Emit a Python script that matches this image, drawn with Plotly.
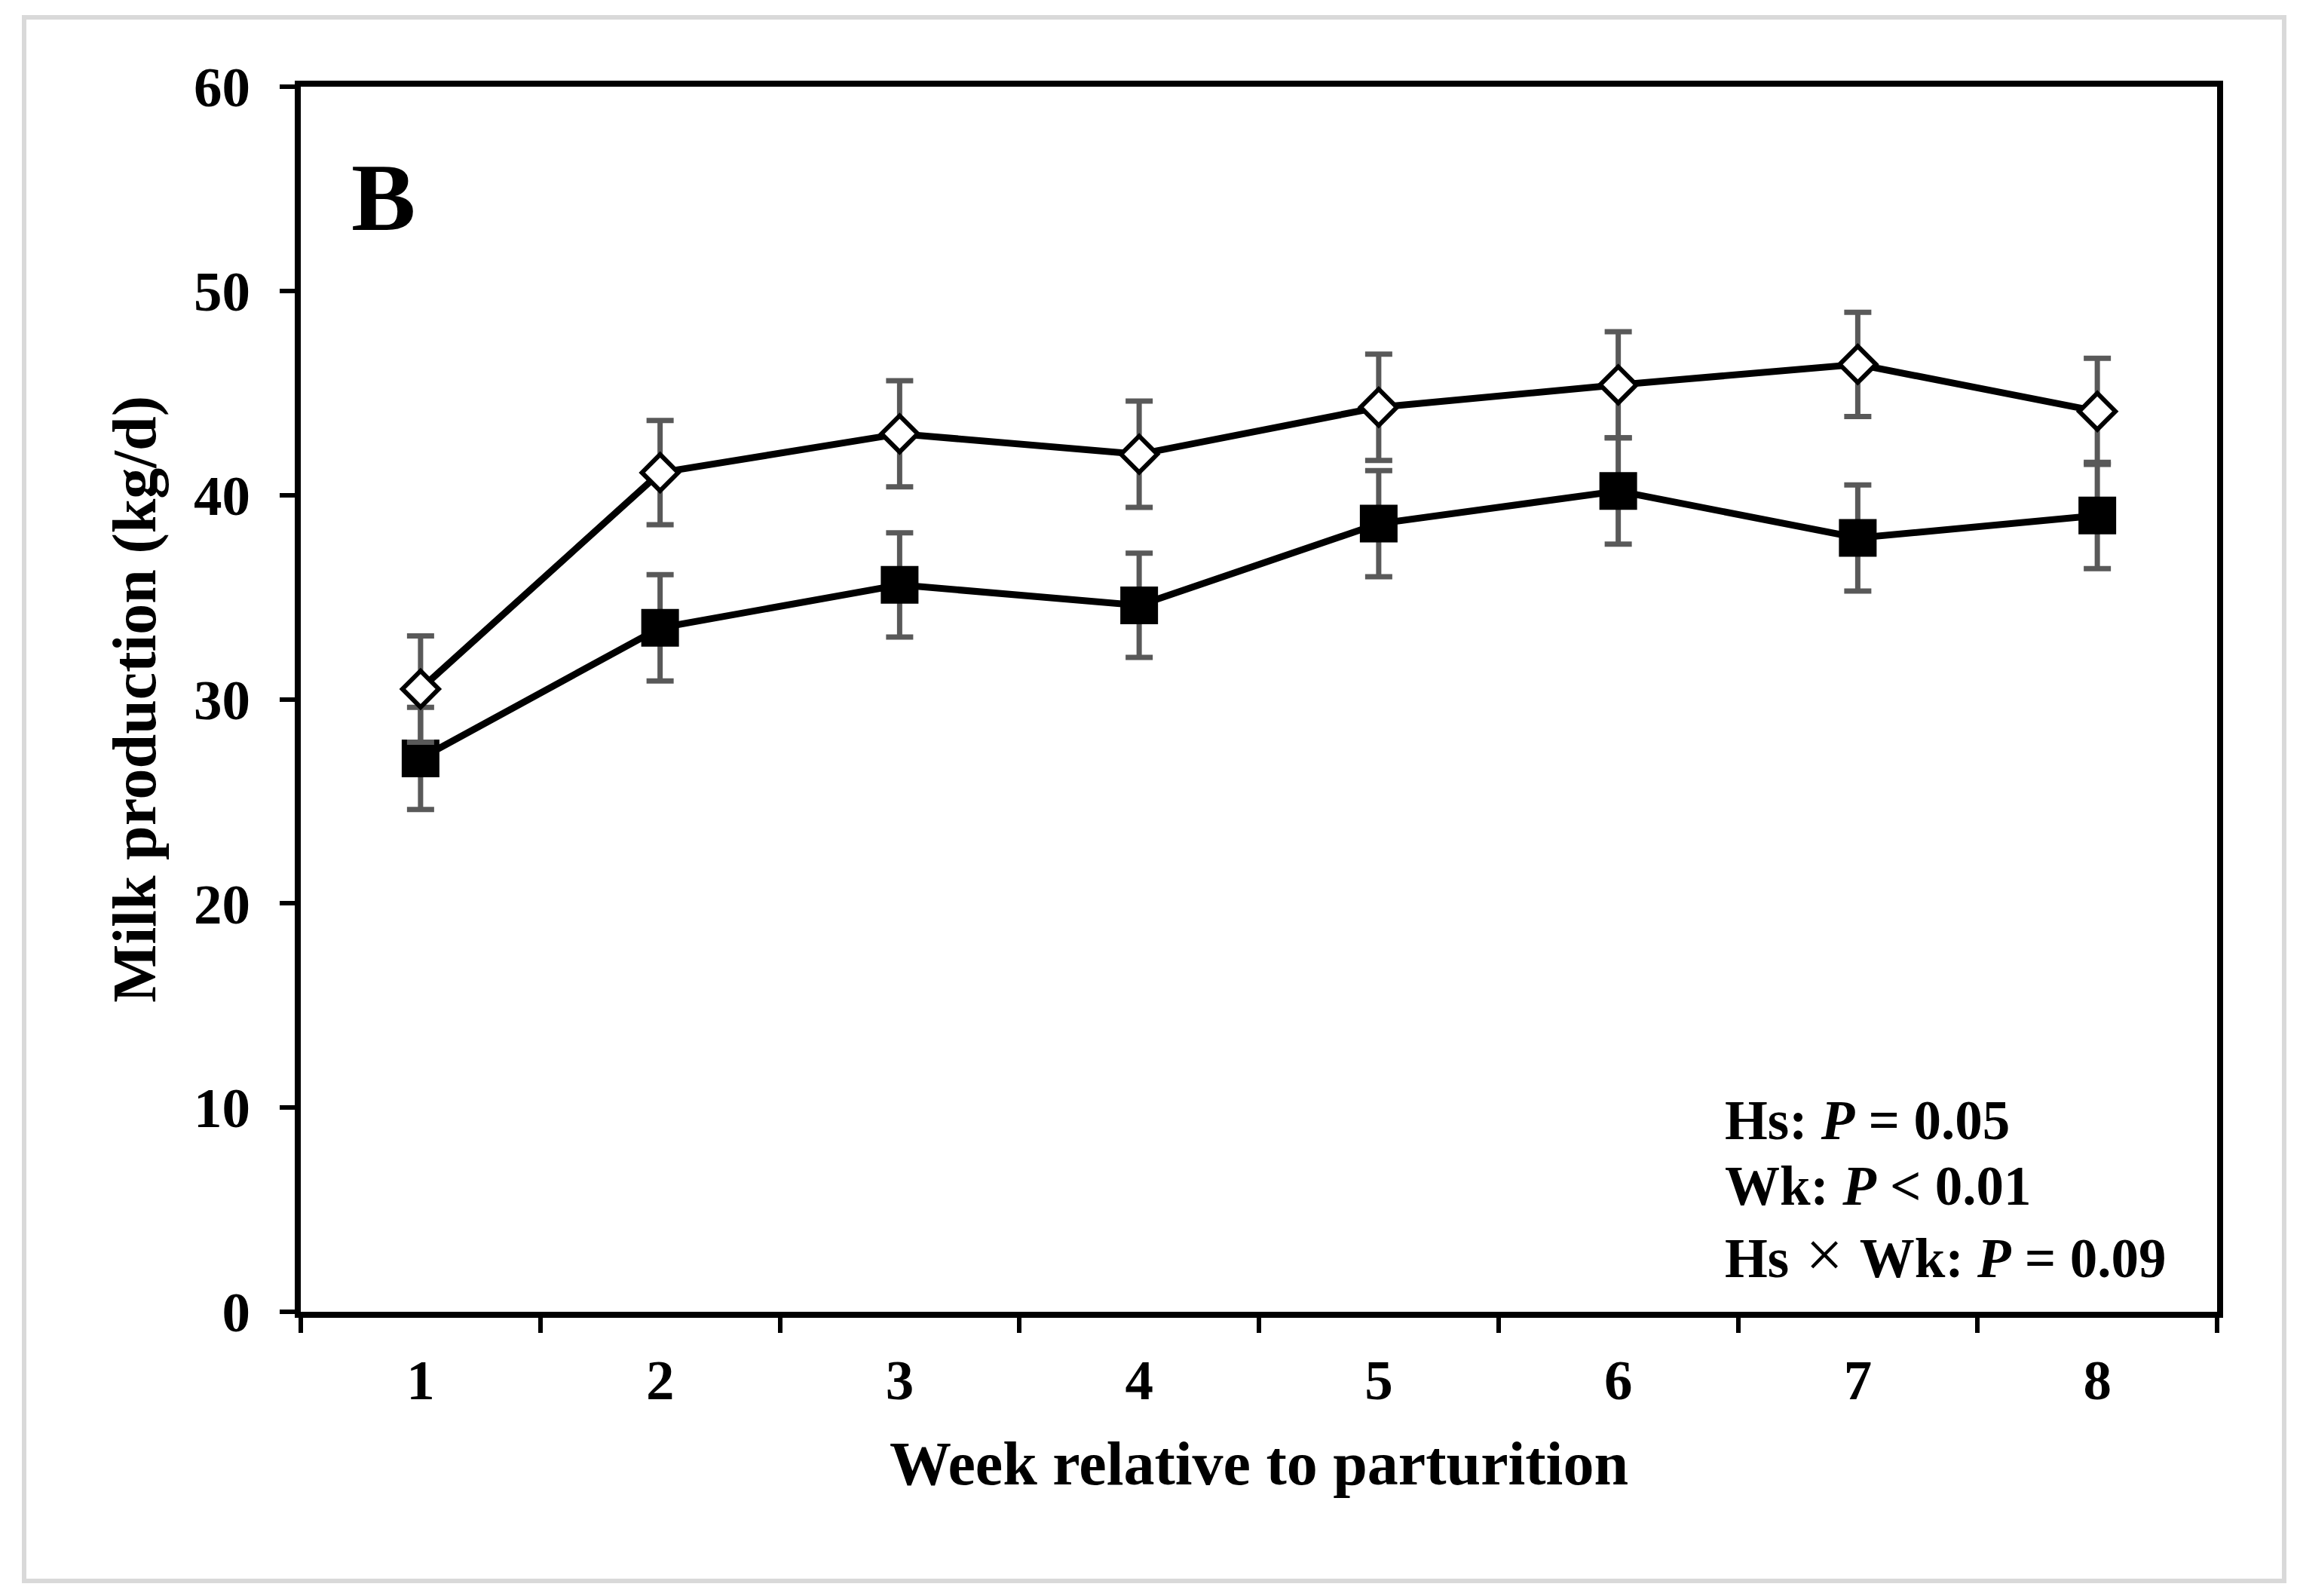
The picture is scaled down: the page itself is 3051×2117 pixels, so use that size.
import plotly.graph_objects as go

weeks = ["1", "2", "3", "4", "5", "6", "7", "8"]
ctrl_mean = [30.5, 41.1, 43.0, 42.0, 44.3, 45.4, 46.4, 44.1]
ctrl_se = [2.6, 2.55, 2.6, 2.6, 2.6, 2.6, 2.55, 2.6]
hs_mean = [27.1, 33.5, 35.6, 34.6, 38.6, 40.2, 37.9, 39.0]
hs_se = [2.5, 2.6, 2.55, 2.55, 2.6, 2.6, 2.6, 2.6]
y_ticks = [0, 10, 20, 30, 40, 50, 60]
stats_lines = [
    "Hs: <i>P</i> = 0.05",
    "Wk: <i>P</i> &lt; 0.01",
    "Hs<span style=\"font-weight:normal;font-size:88px\"> × </span>Wk: <i>P</i> = 0.09",
]

FONT = "Liberation Serif"
OFF = 8  # page body margin
W, H = 3051 - 2 * OFF, 2117 - 2 * OFF
# target pixel positions in the screenshot, converted to figure pixels
PL, PR, PT, PB = 399 - OFF, 2941 - OFF, 115 - OFF, 1740 - OFF
L, R, T, B = PL, W - PR, PT, H - PB
PW, PH = PR - PL, PB - PT

fig = go.Figure()
err_style = dict(type="data", thickness=7, width=18, color="#595959", visible=True)

fig.add_trace(go.Scatter(
    x=weeks, y=hs_mean, mode="lines+markers", name="Hs",
    error_y=dict(array=hs_se, **err_style),
    line=dict(color="black", width=9),
    marker=dict(symbol="square", size=48, color="black", line=dict(color="black", width=2)),
))
fig.add_trace(go.Scatter(
    x=weeks, y=ctrl_mean, mode="lines+markers", name="Control",
    error_y=dict(array=ctrl_se, **err_style),
    line=dict(color="black", width=9),
    marker=dict(symbol="diamond", size=37, color="white", line=dict(color="black", width=6)),
))

def px_to_paper_x(px):
    return (px - OFF - PL) / PW

def px_to_paper_y(py):
    return (PB - (py - OFF)) / PH

shapes = [dict(type="rect", xref="paper", yref="paper",
               x0=px_to_paper_x(32), x1=px_to_paper_x(3030),
               y0=px_to_paper_y(2097), y1=px_to_paper_y(23),
               line=dict(color="#d9d9d9", width=6), fillcolor="rgba(0,0,0,0)", layer="below")]

annotations = [dict(text="<b>B</b>", xref="paper", yref="paper",
                    x=px_to_paper_x(464), y=px_to_paper_y(262), xanchor="left", yanchor="middle",
                    showarrow=False, font=dict(family=FONT, size=128, color="black"))]
for txt, cy in zip(stats_lines, [1486, 1573, 1664]):
    annotations.append(dict(text="<b>" + txt + "</b>", xref="paper", yref="paper",
                            x=px_to_paper_x(2286), y=px_to_paper_y(cy), xanchor="left", yanchor="middle",
                            showarrow=False, align="left",
                            font=dict(family=FONT, size=73, color="black")))

fig.update_layout(
    width=W, height=H,
    margin=dict(l=L, r=R, t=T, b=B, pad=0),
    paper_bgcolor="white", plot_bgcolor="white",
    showlegend=False,
    font=dict(family=FONT, color="black"),
    shapes=shapes,
    annotations=annotations,
    xaxis=dict(
        type="category", range=[-0.5, 7.5], tickson="boundaries",
        showline=True, linecolor="black", linewidth=8, mirror=True,
        ticks="outside", ticklen=20, tickwidth=6, tickcolor="black",
        showgrid=False, zeroline=False,
        tickfont=dict(family=FONT, size=75, color="black", weight="bold"),
        ticklabelstandoff=18,
        title=dict(text="<b>Week relative to parturition</b>", standoff=44,
                   font=dict(family=FONT, size=82, color="black")),
    ),
    yaxis=dict(
        range=[0, 60], tickvals=y_ticks,
        showline=True, linecolor="black", linewidth=8, mirror=True,
        ticks="outside", ticklen=20, tickwidth=6, tickcolor="black",
        showgrid=False, zeroline=False,
        tickfont=dict(family=FONT, size=75, color="black", weight="bold"),
        ticklabelstandoff=24,
        title=dict(text="<b>Milk production (kg/d)</b>", standoff=26,
                   font=dict(family=FONT, size=82, color="black")),
    ),
)

fig.write_html("out.html")
